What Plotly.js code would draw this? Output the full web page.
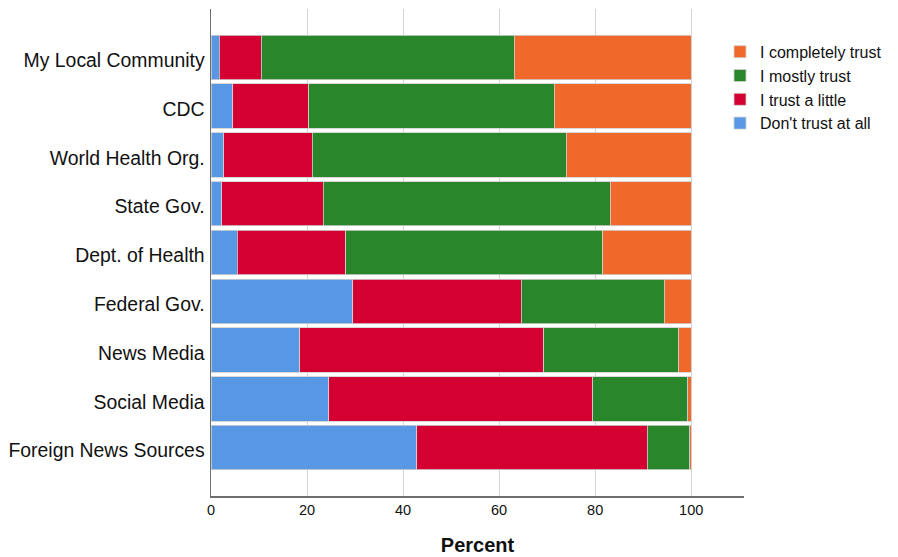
<!DOCTYPE html>
<html>
<head>
<meta charset="utf-8">
<script src="https://cdn.plot.ly/plotly-3.0.1.min.js"></script>
<style>html,body{margin:0;padding:0;background:#fff;}#chart{width:898px;height:557px;}</style>
</head>
<body>
<div id="chart"></div>
<script>
const categories = ["My Local Community", "CDC", "World Health Org.", "State Gov.", "Dept. of Health", "Federal Gov.", "News Media", "Social Media", "Foreign News Sources"];
const dontTrust = [1.7, 4.5, 2.7, 2.2, 5.5, 29.5, 18.5, 24.5, 42.8];
const trustLittle = [8.8, 15.9, 18.4, 21.2, 22.6, 35.1, 50.8, 55.0, 48.1];
const mostlyTrust = [52.7, 51.1, 52.9, 59.7, 53.5, 29.8, 28.1, 19.8, 8.8];
const completelyTrust = [36.8, 28.5, 26.0, 16.9, 18.4, 5.6, 2.6, 0.7, 0.3];
const seriesNames = ["Don't trust at all", "I trust a little", "I mostly trust", "I completely trust"];
const seriesColors = ["#5897E4", "#D50032", "#2A862A", "#F0682A"];
const xTicks = [0, 20, 40, 60, 80, 100];

const seriesValues = [dontTrust, trustLittle, mostlyTrust, completelyTrust];
const traces = seriesValues.map((vals, i) => ({
  type: 'bar',
  orientation: 'h',
  name: seriesNames[i],
  x: vals,
  y: categories,
  marker: {color: seriesColors[i], line: {color: '#cfcfcf', width: 0.8}},
  hoverinfo: 'x+y+name'
}));

const layout = {
  width: 898,
  height: 557,
  barmode: 'stack',
  bargap: 0.09,
  paper_bgcolor: '#ffffff',
  plot_bgcolor: '#ffffff',
  font: {family: '"Liberation Sans", Arial, sans-serif', color: '#111'},
  margin: {l: 211, r: 154, t: 9, b: 61},
  showlegend: true,
  legend: {
    traceorder: 'reversed',
    x: 0.955, xanchor: 'left',
    y: 0.947, yanchor: 'top',
    font: {size: 16, color: '#111'},
    itemwidth: 30,
    tracegroupgap: 0,
    bgcolor: 'rgba(0,0,0,0)'
  },
  xaxis: {
    range: [0, 111],
    tickvals: xTicks,
    ticktext: xTicks.map(String),
    showgrid: true,
    gridcolor: '#d4d4d4',
    gridwidth: 1,
    zeroline: false,
    showline: true,
    linecolor: '#6e6e6e',
    linewidth: 1.5,
    ticks: '',
    ticklabelstandoff: 2.5,
    tickfont: {size: 14.5, color: '#111'},
    title: {text: 'Percent', font: {size: 20, color: '#111', weight: 'bold'}, standoff: 21}
  },
  yaxis: {
    type: 'category',
    categoryorder: 'array',
    categoryarray: categories,
    range: [8.99, -0.99],
    showgrid: false,
    zeroline: false,
    showline: true,
    linecolor: '#6e6e6e',
    linewidth: 1.5,
    ticks: '',
    ticklabelstandoff: 1,
    ticklabelshift: -3,
    tickfont: {size: 19.4, color: '#111'}
  }
};

Plotly.newPlot('chart', traces, layout, {displayModeBar: false, staticPlot: true});
</script>
</body>
</html>
